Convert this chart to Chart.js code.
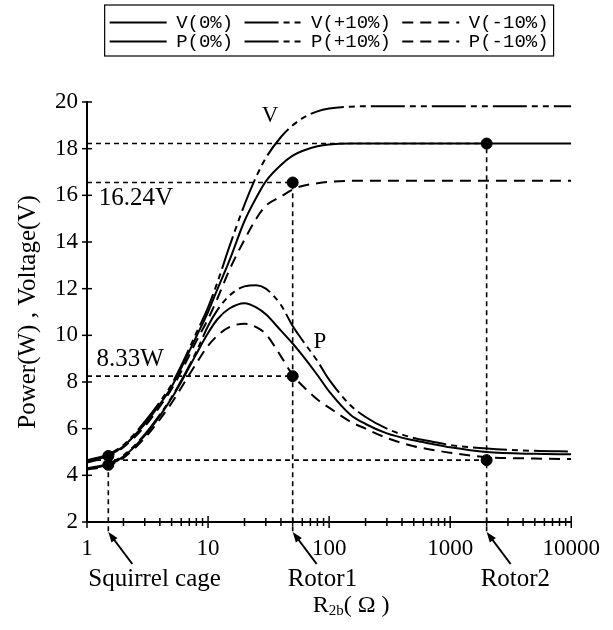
<!DOCTYPE html>
<html>
<head>
<meta charset="utf-8">
<script src="https://cdn.jsdelivr.net/npm/chart.js@4.4.0/dist/chart.umd.min.js"></script>
<style>
  html, body { margin: 0; padding: 0; background: #fff; }
  #wrap { width: 613px; height: 630px; }
</style>
</head>
<body>
<div id="wrap"><canvas id="powerChart"></canvas></div>
<script>
// R2b (ohm) sample points
var r2b = [1, 1.5, 2, 3, 4, 5, 6, 8, 10, 12, 15, 20, 25, 30, 40, 50, 60, 80, 100, 150, 200, 300, 500, 700, 1000, 2000, 5000, 10000];

// voltage (V)
var v0   = [4.6, 4.85, 5.25, 6.2, 7.05, 7.8, 8.6, 9.95, 11.0, 12.0, 13.2, 14.9, 15.9, 16.6, 17.3, 17.7, 17.9, 18.1, 18.18, 18.22, 18.22, 18.22, 18.22, 18.22, 18.22, 18.22, 18.22, 18.22];
var vUp  = [4.65, 4.9, 5.3, 6.3, 7.15, 7.9, 8.7, 10.1, 11.2, 12.3, 13.8, 15.6, 16.8, 17.6, 18.5, 19.0, 19.3, 19.6, 19.72, 19.8, 19.82, 19.82, 19.82, 19.82, 19.82, 19.82, 19.82, 19.82];
var vDn  = [4.55, 4.8, 5.2, 6.1, 6.95, 7.7, 8.45, 9.75, 10.7, 11.6, 12.8, 14.1, 15.0, 15.55, 15.95, 16.25, 16.4, 16.52, 16.58, 16.62, 16.62, 16.62, 16.62, 16.62, 16.62, 16.62, 16.62, 16.62];

// power (W)
var p0   = [4.28, 4.45, 4.8, 5.7, 6.55, 7.3, 8.0, 9.2, 10.1, 10.7, 11.15, 11.38, 11.2, 10.9, 10.2, 9.65, 9.15, 8.3, 7.6, 6.6, 6.2, 5.8, 5.5, 5.35, 5.2, 5.0, 4.92, 4.9];
var pUp  = [4.3, 4.5, 4.85, 5.75, 6.6, 7.35, 8.05, 9.3, 10.4, 11.1, 11.7, 12.1, 12.15, 12.0, 11.3, 10.4, 9.8, 8.9, 8.1, 7.0, 6.5, 6.0, 5.6, 5.45, 5.3, 5.15, 5.05, 5.02];
var pDn  = [4.25, 4.42, 4.75, 5.6, 6.4, 7.1, 7.75, 8.8, 9.55, 10.0, 10.35, 10.5, 10.35, 10.05, 9.1, 8.3, 7.85, 7.25, 6.9, 6.3, 6.0, 5.6, 5.25, 5.1, 4.97, 4.78, 4.72, 4.7];

// operating points: squirrel cage, rotor1, rotor2
var markNames = ['Squirrel cage', 'Rotor1', 'Rotor2'];
var markX = [1.5, 50, 2000];
var markHigh = [4.83, 16.55, 18.22];
var markLow = [4.45, 8.25, 4.65];

var xTicks = [];
[1, 10, 100, 1000].forEach(function (d) {
    for (var k = 1; k < 10; k++) xTicks.push(k * d);
});
xTicks.push(10000);

var serif = 'Liberation Serif';
var dashDot = [34, 5, 6, 5, 6, 5];
var dashed = [11, 7];
var guide = [5, 4];

function pts(ys) {
    return r2b.map(function (x, i) { return { x: x, y: ys[i] }; });
}

function curve(label, ys, dash) {
    return {
        label: label,
        data: pts(ys),
        borderColor: '#000',
        borderWidth: 2,
        borderDash: dash,
        pointRadius: 0,
        fill: false,
        cubicInterpolationMode: 'monotone'
    };
}

function guideLine(a, b) {
    return {
        label: '',
        data: [a, b],
        borderColor: '#000',
        borderWidth: 1.6,
        borderDash: guide,
        pointRadius: 0,
        clip: false
    };
}

var datasets = [
    curve('V(0%)', v0, []),
    curve('V(+10%)', vUp, dashDot),
    curve('V(-10%)', vDn, dashed),
    curve('P(0%)', p0, []),
    curve('P(+10%)', pUp, dashDot),
    curve('P(-10%)', pDn, dashed),
    // horizontal reading lines
    guideLine({ x: 1, y: markHigh[2] }, { x: markX[2], y: markHigh[2] }),
    guideLine({ x: 1, y: markHigh[1] }, { x: markX[1], y: markHigh[1] }),
    guideLine({ x: 1, y: markLow[1] }, { x: markX[1], y: markLow[1] }),
    guideLine({ x: 1, y: markLow[2] }, { x: markX[2], y: markLow[2] }),
    // vertical reading lines, run a little under the axis
    guideLine({ x: markX[0], y: 1.6 }, { x: markX[0], y: markHigh[0] }),
    guideLine({ x: markX[1], y: 1.6 }, { x: markX[1], y: markHigh[1] }),
    guideLine({ x: markX[2], y: 1.6 }, { x: markX[2], y: markHigh[2] }),
    {
        label: '',
        data: markX.map(function (x, i) { return { x: x, y: markHigh[i] }; })
            .concat(markX.map(function (x, i) { return { x: x, y: markLow[i] }; })),
        showLine: false,
        pointRadius: 5.5,
        pointBackgroundColor: '#000',
        pointBorderColor: '#000',
        clip: false
    }
];

var textNotes = [
    { text: 'V', x: 32.5, y: 19.4, align: 'center', size: 23 },
    { text: 'P', x: 84, y: 9.7, align: 'center', size: 23 },
    { text: '16.24V', x: 1.25, y: 15.85, align: 'left', size: 25 },
    { text: '8.33W', x: 1.2, y: 8.98, align: 'left', size: 25 }
];

var annotate = {
    id: 'annotate',
    afterDraw: function (chart) {
        var ctx = chart.ctx;
        var xs = chart.scales.x, ys = chart.scales.y;
        var area = chart.chartArea;
        ctx.save();
        ctx.strokeStyle = '#000';
        ctx.fillStyle = '#000';
        ctx.setLineDash([]);

        // ticks crossing the axes
        ctx.lineWidth = 1.5;
        ys.ticks.forEach(function (t) {
            var py = ys.getPixelForValue(t.value);
            ctx.beginPath();
            ctx.moveTo(area.left - 5, py);
            ctx.lineTo(area.left + 5, py);
            ctx.stroke();
        });
        xs.ticks.forEach(function (t) {
            var px = xs.getPixelForValue(t.value);
            var lg = Math.log10(t.value);
            var h = Math.abs(lg - Math.round(lg)) < 1e-9 ? 6 : 4;
            ctx.beginPath();
            ctx.moveTo(px, area.bottom - h);
            ctx.lineTo(px, area.bottom + h);
            ctx.stroke();
        });

        // notes inside the plot
        ctx.textBaseline = 'middle';
        textNotes.forEach(function (n) {
            ctx.font = n.size + 'px "' + serif + '"';
            ctx.textAlign = n.align;
            ctx.fillText(n.text, xs.getPixelForValue(n.x), ys.getPixelForValue(n.y));
        });

        // arrows and names under the axis
        var shift = [-20, -5, -6];
        ctx.font = '25px "' + serif + '"';
        markX.forEach(function (x, i) {
            var px = xs.getPixelForValue(x);
            var tipY = area.bottom + 10;
            var tx = px + 24, ty = area.bottom + 42;
            ctx.lineWidth = 2;
            ctx.beginPath();
            ctx.moveTo(tx, ty);
            ctx.lineTo(px + 3, tipY + 4);
            ctx.stroke();
            var ang = Math.atan2(ty - tipY, tx - px);
            ctx.beginPath();
            ctx.moveTo(px, tipY);
            ctx.lineTo(px + 11 * Math.cos(ang - 0.35), tipY + 11 * Math.sin(ang - 0.35));
            ctx.lineTo(px + 11 * Math.cos(ang + 0.35), tipY + 11 * Math.sin(ang + 0.35));
            ctx.closePath();
            ctx.fill();
            ctx.textAlign = 'left';
            ctx.fillText(markNames[i], px + shift[i], area.bottom + 57);
        });

        // x axis title with subscript
        var cx = (area.left + area.right) / 2 + 22, cy = area.bottom + 84;
        ctx.font = '24px "' + serif + '"';
        var wR = ctx.measureText('R').width;
        var wT = ctx.measureText('( \u03A9 )').width;
        ctx.font = '15px "' + serif + '"';
        var wS = ctx.measureText('2b').width;
        var x0 = cx - (wR + wS + wT) / 2;
        ctx.textAlign = 'left';
        ctx.font = '24px "' + serif + '"';
        ctx.fillText('R', x0, cy);
        ctx.fillText('( \u03A9 )', x0 + wR + wS, cy);
        ctx.font = '15px "' + serif + '"';
        ctx.fillText('2b', x0 + wR, cy + 5);

        // frame round the legend
        var hb = chart.legend.legendHitBoxes;
        if (hb && hb.length) {
            var l = Math.min.apply(null, hb.map(function (b) { return b.left; }));
            var r = Math.max.apply(null, hb.map(function (b) { return b.left + b.width; }));
            var t = Math.min.apply(null, hb.map(function (b) { return b.top; }));
            var b = Math.max.apply(null, hb.map(function (b) { return b.top + b.height; }));
            ctx.lineWidth = 1.2;
            ctx.strokeRect(l - 5, t - 8, r - l + 10, b - t + 13);
        }
        ctx.restore();
    }
};

var ctx = document.getElementById('powerChart').getContext('2d');
var powerChart = new Chart(ctx, {
    type: 'line',
    data: { datasets: datasets },
    plugins: [annotate],
    options: {
        responsive: true,
        maintainAspectRatio: false,
        animation: false,
        devicePixelRatio: 1,
        layout: {
            padding: { top: 13, right: 14, left: 0, bottom: 0 }
        },
        plugins: {
            tooltip: { enabled: false },
            legend: {
                display: true,
                position: 'top',
                fullSize: false,
                labels: {
                    usePointStyle: true,
                    pointStyleWidth: 57,
                    padding: 0,
                    color: '#000',
                    font: { family: 'Liberation Mono', size: 19 },
                    generateLabels: function (chart) {
                        return chart.data.datasets.slice(0, 6).map(function (ds, i) {
                            // a trailing space keeps a gap before the next column
                            var gap = (i % 3 === 2) ? '' : ' ';
                            return {
                                text: ds.label + gap,
                                fillStyle: '#000',
                                strokeStyle: '#000',
                                fontColor: '#000',
                                lineWidth: 2,
                                lineDash: ds.borderDash,
                                pointStyle: 'line',
                                hidden: false,
                                datasetIndex: i
                            };
                        });
                    }
                }
            }
        },
        scales: {
            x: {
                type: 'logarithmic',
                min: 1,
                max: 10000,
                afterBuildTicks: function (s) {
                    s.ticks = xTicks.map(function (v) { return { value: v }; });
                },
                afterFit: function (s) { s.height = 108; },
                grid: { drawOnChartArea: false, drawTicks: false },
                border: { color: '#000', width: 2 },
                ticks: {
                    autoSkip: false,
                    maxRotation: 0,
                    padding: 13,
                    color: '#000',
                    font: { family: serif, size: 23 },
                    callback: function (v) {
                        var lg = Math.log10(v);
                        return Math.abs(lg - Math.round(lg)) < 1e-9 ? String(v) : '';
                    }
                }
            },
            spacer: {
                axis: 'x',
                type: 'linear',
                position: 'top',
                display: true,
                grid: { display: false },
                border: { display: false },
                ticks: { display: false },
                afterFit: function (s) { s.height = 41; }
            },
            y: {
                type: 'linear',
                min: 2,
                max: 20,
                afterFit: function (s) { s.width = 87; },
                grid: { drawOnChartArea: false, drawTicks: false },
                border: { color: '#000', width: 2 },
                ticks: {
                    stepSize: 2,
                    padding: 9,
                    color: '#000',
                    font: { family: serif, size: 23 }
                },
                title: {
                    display: true,
                    text: 'Power(W) , Voltage(V)',
                    color: '#000',
                    font: { family: serif, size: 25 },
                    padding: { top: 13, bottom: 0 }
                }
            }
        }
    }
});
</script>
</body>
</html>
